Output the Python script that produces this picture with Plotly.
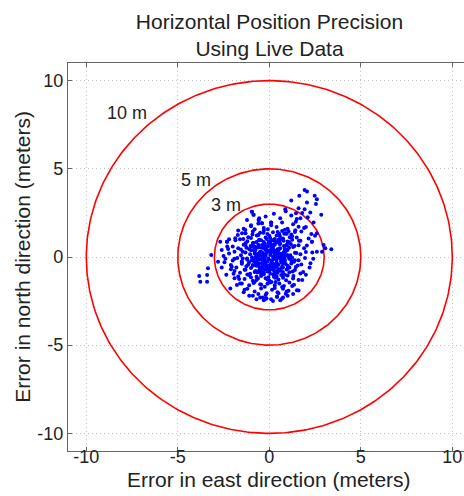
import numpy as np
import plotly.graph_objects as go

# ---------------- data ----------------
radii = [3, 5, 10]
ring_labels = ["3 m", "5 m", "10 m"]
label_east = [-2.35, -3.99, -7.76]
label_north = [2.95, 4.38, 8.18]

east = [
    -1.3,-0.9,-0.6,-0.3,-0.1,0.2,0.4,0.7,0.9,1.2,1.4,0.0,-0.5,0.55,1.05,
    -1.6,-1.2,-1.0,-0.7,-0.45,-0.2,0.05,0.3,0.5,0.75,1.0,1.25,1.5,1.7,-0.85,0.15,0.6,1.1,
    -2.0,-1.7,-1.4,-1.1,-0.9,-0.6,-0.4,-0.15,0.1,0.3,0.55,0.8,1.0,1.3,1.6,1.9,-1.25,-0.25,0.45,0.95,-0.75,0.2,
    -2.2,-1.9,-1.55,-1.3,-1.05,-0.8,-0.55,-0.35,-0.1,0.05,0.25,0.45,0.65,0.9,1.15,1.4,1.7,2.0,-0.7,0.35,-1.45,0.8,-0.2,1.05,
    -2.4,-2.0,-1.75,-1.5,-1.2,-0.95,-0.7,-0.5,-0.3,-0.05,0.15,0.4,0.6,0.85,1.1,1.35,1.6,1.95,-1.1,-0.15,0.5,0.25,-0.6,1.25,
    -2.1,-1.8,-1.5,-1.25,-1.0,-0.75,-0.55,-0.3,-0.1,0.1,0.3,0.5,0.75,1.0,1.2,1.45,1.75,-0.9,0.2,0.65,-0.4,1.1,
    -1.9,-1.6,-1.3,-1.05,-0.8,-0.55,-0.3,-0.1,0.15,0.35,0.6,0.85,1.1,1.4,1.7,-0.65,0.05,0.45,-1.2,0.95,
    -1.7,-1.35,-1.0,-0.7,-0.45,-0.2,0.0,0.25,0.5,0.75,1.0,1.3,1.6,-0.9,0.4,-0.05,
    -1.5,-1.1,-0.8,-0.5,-0.25,0.05,0.3,0.55,0.8,1.1,1.35,-0.1,0.7,
    -1.2,-0.8,-0.45,-0.15,0.15,0.45,0.75,1.05,-0.6,0.3,0.9,
    -0.9,-0.5,-0.2,0.1,0.42,0.7,1.0,-0.16,
    -1.4,-1.0,-0.6,-0.3,0.1,0.4,0.7,1.0,1.3,1.6,1.9,0.85,-0.8,
    -0.95,-0.86,-0.58,-0.4,-0.2,0.25,0.6,0.9,1.2,1.5,1.8,2.1,0.1,
    -0.9,-0.7,-0.5,-0.3,-0.1,0.1,0.3,0.5,0.7,0.9,-0.8,-0.6,-0.4,-0.2,0.0,0.2,0.4,0.6,0.8,
    -0.85,-0.65,-0.45,-0.25,-0.05,0.15,0.35,0.55,0.75,0.95,-0.75,-0.55,-0.35,-0.15,0.05,0.25,0.45,0.65,0.85,
    0.9,0.7,0.5,0.3,0.1,-0.1,-0.3,-0.5,-0.7,-0.9,0.8,0.6,0.4,0.2,0.0,-0.2,-0.4,-0.6,-0.8,
    0.85,0.65,0.45,0.25,0.05,-0.15,-0.35,-0.55,-0.75,-0.95,0.75,0.55,0.35,0.15,-0.05,-0.25,-0.45,-0.65,-0.85,
    -1.55,-1.35,-1.15,-0.95,-0.78,-0.62,-0.48,-0.32,-0.18,-0.02,0.12,0.28,0.42,0.58,0.72,0.88,1.02,1.18,1.32,1.48,
    -1.5,-1.3,-1.1,-0.92,-0.74,-0.58,-0.44,-0.28,-0.14,0.02,0.16,0.32,0.46,0.62,0.78,0.92,1.08,1.22,1.38,1.55,
    -1.42,-1.22,-1.02,-0.86,-0.68,-0.52,-0.38,-0.22,-0.08,0.08,0.22,0.38,0.52,0.68,0.82,0.98,1.12,1.28,1.42,1.62,
    -1.85,-1.65,-2.05,-2.25,-1.95,-1.72,2.15,2.35,1.85,2.25,2.05,1.75,-2.5,-2.6,2.5,-1.35,0.5,-0.35,0.95,1.25,
    -0.72,-0.56,-0.42,-0.26,-0.12,0.04,0.18,0.34,0.48,0.64,-0.66,-0.5,-0.36,-0.2,-0.04,0.1,0.26,0.4,0.56,0.7,
    -1.0,-0.85,-0.7,-0.55,-0.4,-0.25,-0.1,0.05,0.2,0.35,0.5,0.65,0.8,0.95,1.1,1.25,1.4,-1.15,-1.3,-1.45,
    -2.3,-2.1,-1.9,-2.45,-2.2,-1.7,-1.6,-1.9,-1.4,-1.1,-0.7,-0.3,0.2,0.6,1.3,
    1.6,1.8,2.0,2.2,2.4,2.6,2.3,2.0,1.7,-2.6,-2.35,-1.0,-0.55,0.75,1.45,
    1.93,2.06,1.64,2.48,2.6,1.2,2.06,2.55,1.6,1.93,2.24,2.84,1.46,0.87,0.1,2.42,2.6,2.33,
    -3.83,-3.4,-3.77,-3.4,-3.35,-3.17,-2.8,-2.31,-2.68,
    3.39,3.06,2.88,2.33,2.97,
    -0.16,0.42,1.51,-2.13,-1.77,
    -0.95,-0.86,-1.22,-0.58,-0.4,-1.31,-1.49,-1.86,-2.31,
]

north = [
    1.35,1.45,1.25,1.5,1.3,1.4,1.22,1.48,1.33,1.27,1.42,1.2,1.38,1.3,1.46,
    1.0,0.9,1.08,0.85,0.95,1.1,0.82,1.02,0.9,1.05,0.88,0.98,1.1,0.92,0.8,0.95,1.0,0.84,
    0.6,0.5,0.7,0.45,0.62,0.55,0.68,0.42,0.58,0.7,0.48,0.63,0.4,0.57,0.66,0.5,0.52,0.6,0.44,0.7,0.41,0.53,
    0.2,0.3,0.1,0.25,0.15,0.33,0.08,0.22,0.3,0.12,0.27,0.05,0.18,0.32,0.1,0.24,0.15,0.28,0.06,0.35,0.3,0.2,0.16,0.02,
    -0.1,-0.2,-0.05,-0.25,-0.15,-0.02,-0.28,-0.12,-0.2,-0.08,-0.3,-0.15,-0.05,-0.22,-0.1,-0.27,-0.18,-0.06,-0.3,-0.25,-0.02,-0.12,-0.16,-0.04,
    -0.45,-0.6,-0.38,-0.52,-0.62,-0.4,-0.55,-0.48,-0.65,-0.36,-0.58,-0.44,-0.6,-0.5,-0.37,-0.57,-0.42,-0.5,-0.4,-0.64,-0.35,-0.6,
    -0.8,-0.9,-0.72,-0.95,-0.85,-0.75,-0.98,-0.82,-0.7,-0.92,-0.78,-1.0,-0.86,-0.74,-0.93,-0.88,-0.95,-0.8,-0.99,-0.71,
    -1.1,-1.25,-1.15,-1.3,-1.08,-1.2,-1.33,-1.12,-1.28,-1.18,-1.05,-1.22,-1.3,-1.35,-1.1,-1.15,
    -1.5,-1.6,-1.42,-1.55,-1.68,-1.45,-1.6,-1.5,-1.65,-1.44,-1.58,-1.52,-1.7,
    -1.8,-1.95,-1.78,-2.05,-1.85,-2.0,-1.8,-1.92,-2.1,-1.76,-2.08,
    -2.2,-2.3,-2.15,-2.4,-2.25,-2.35,-2.2,-2.35,
    1.6,1.75,1.9,1.65,1.8,1.7,1.95,1.6,1.85,1.72,1.65,1.55,1.58,
    2.57,2.39,2.1,1.91,2.3,2.45,2.2,2.6,2.35,2.15,2.5,2.25,1.95,
    0.8,-0.5,0.3,-0.9,0.6,-0.2,0.9,-0.7,0.1,-0.4,0.2,0.7,-0.6,0.4,-0.8,0.0,-0.3,0.5,-0.1,
    -0.2,0.0,-0.95,0.75,0.35,0.55,-0.45,0.15,-0.85,0.65,-0.3,0.95,0.1,-0.65,0.85,-0.75,0.25,-0.15,0.45,
    0.05,-0.55,0.35,-0.85,0.65,-0.25,0.85,-0.65,0.15,-0.45,0.25,0.75,-0.55,0.45,-0.75,0.05,-0.35,0.55,-0.05,
    -0.15,0.05,-0.9,0.7,0.3,0.6,-0.5,0.2,-0.8,0.6,-0.35,0.9,0.15,-0.6,0.8,-0.7,0.3,-0.1,0.4,
    0.42,-0.72,1.12,-0.18,0.58,-1.22,0.28,1.38,-0.52,0.88,-1.42,0.12,-0.88,1.18,-0.28,0.38,-0.62,0.72,-1.08,0.22,
    -0.32,0.78,-1.02,1.28,-0.42,0.18,-1.58,0.48,1.02,-0.68,0.32,-1.18,1.42,-0.08,0.92,-1.32,0.52,-0.22,0.62,-0.48,
    1.02,-0.08,0.62,-1.48,1.22,-0.82,0.02,-0.38,1.58,0.22,-0.98,0.82,0.08,-0.32,1.32,0.12,1.12,-0.82,1.52,0.92,
    0.95,-1.25,-0.55,0.45,-0.95,1.25,1.05,0.25,-0.85,-0.35,0.65,1.45,0.05,-0.6,1.2,-1.85,-2.05,-2.3,-1.95,-1.65,
    0.12,-0.36,0.52,-0.12,0.28,-0.52,0.66,-0.02,0.38,-0.26,-0.44,0.24,-0.18,0.62,-0.48,0.44,-0.62,0.16,0.74,0.06,
    0.38,-0.22,-1.12,0.98,-0.78,0.08,-1.28,1.08,-0.38,-1.42,0.98,-1.02,0.28,1.32,-0.08,1.18,-0.18,-0.42,0.68,-0.08,
    0.6,-0.7,-1.2,-0.3,1.0,1.5,-1.5,-0.1,-2.0,-2.2,-2.4,-2.45,-2.5,-2.45,-2.1,
    -1.9,-1.3,-1.0,-0.6,-0.1,0.3,1.3,1.7,2.2,0.4,-1.0,1.8,2.2,-2.3,2.0,
    3.8,3.71,3.47,3.47,3.28,3.2,3.09,3.0,2.77,2.71,2.52,2.39,2.48,2.71,1.95,1.95,1.35,0.87,
    -1.08,-1.02,-1.4,-1.4,-0.64,0.11,-0.27,0.87,0.87,
    0.44,0.49,0.3,0.87,0.68,
    -2.35,-2.25,-1.88,-1.78,-1.59,
    2.57,2.39,2.1,2.1,1.91,1.53,1.35,1.06,0.87,
]

tick_vals = [-10, -5, 0, 5, 10]
tick_text = ["-10", "-5", "0", "5", "10"]

FONT = "Liberation Sans, Arial, sans-serif"
TXT = "#222222"

fig = go.Figure()

theta = np.linspace(0, 2 * np.pi, 361)
for r in radii:
    fig.add_trace(go.Scatter(
        x=r * np.cos(theta), y=r * np.sin(theta), mode="lines",
        line=dict(color="#ff0000", width=1.6), hoverinfo="skip", showlegend=False))

fig.add_trace(go.Scatter(
    x=east, y=north, mode="markers",
    marker=dict(color="#0000ff", size=4, line=dict(width=0)),
    showlegend=False))

for lab, lx, ly in zip(ring_labels, label_east, label_north):
    fig.add_annotation(x=lx, y=ly, text=lab, showarrow=False,
                       font=dict(family=FONT, size=18, color=TXT))

# x-axis title placed as paper annotation for exact vertical placement
fig.add_annotation(xref="paper", yref="paper", x=(269 - 68) / 396, y=-(479 - 451) / 388,
                   xanchor="center", yanchor="middle", showarrow=False,
                   text="Error in east direction (meters)",
                   font=dict(family=FONT, size=21, color=TXT))

axis_common = dict(
    showgrid=True, gridcolor="#c4c4c4", griddash="1px,3px", gridwidth=1,
    zeroline=False, showline=True, linecolor="#666666", linewidth=1.2,
    ticks="inside", ticklen=4, tickcolor="#666666",
    tickvals=tick_vals, ticktext=tick_text,
    tickfont=dict(family=FONT, size=18, color=TXT),
)

fig.update_layout(
    width=464, height=496,
    margin=dict(l=68, r=0, t=63, b=45),
    plot_bgcolor="white", paper_bgcolor="white",
    title=dict(text="Horizontal Position Precision<br>Using Live Data",
               x=269.5 / 464, xanchor="center", y=1 - 29 / 496, yanchor="middle",
               font=dict(family=FONT, size=21, color=TXT)),
    xaxis=dict(range=[-11, 10.64], mirror="ticks", ticklabelstandoff=-11,
               **axis_common),
    yaxis=dict(range=[-11, 11], mirror=False,
               title=dict(text="Error in north direction (meters)", standoff=0,
                          font=dict(family=FONT, size=21, color=TXT)),
               **axis_common),
)

fig.write_html("out.html")
